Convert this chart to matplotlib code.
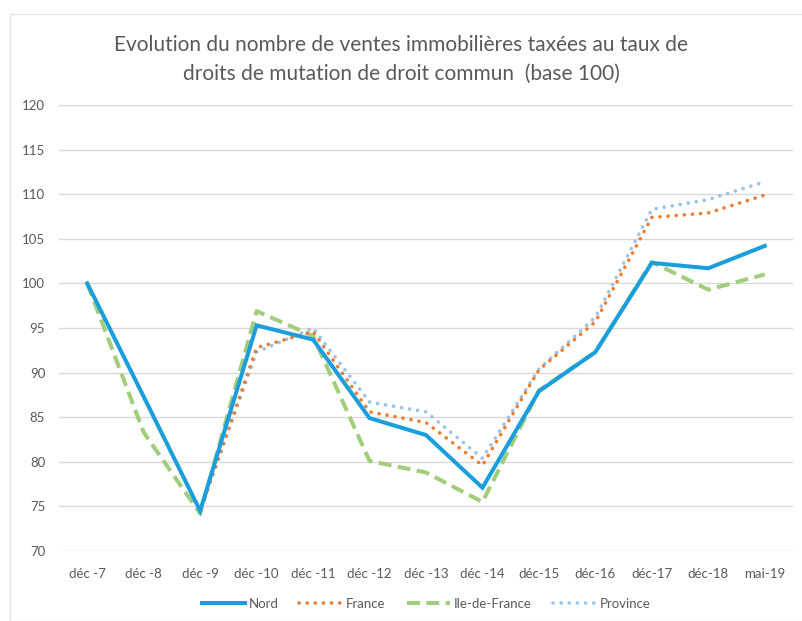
import matplotlib
matplotlib.use("Agg")
import matplotlib.pyplot as plt
from matplotlib.patches import Rectangle

categories = ["déc -7", "déc -8", "déc -9", "déc -10", "déc -11", "déc -12", "déc -13",
              "déc -14", "déc-15", "déc-16", "déc-17", "déc-18", "mai-19"]
nord = [100, 87.3, 74.5, 95.3, 93.7, 84.9, 83.0, 77.1, 87.9, 92.3, 102.3, 101.7, 104.2]
france = [100, 87.3, 74.5, 92.8, 94.6, 85.6, 84.4, 79.6, 90.3, 95.7, 107.4, 107.9, 109.9]
idf = [100, 83.3, 74.2, 96.9, 94.1, 80.1, 78.8, 75.5, 88.0, 92.3, 102.4, 99.3, 101.0]
province = [100, 87.3, 74.5, 92.3, 95.0, 86.7, 85.6, 80.4, 90.4, 96.2, 108.3, 109.4, 111.4]

title = "Evolution du nombre de ventes immobilières taxées au taux de\ndroits de mutation de droit commun  (base 100)"

plt.rcParams['font.family'] = ['Lato', 'DejaVu Sans']
txt = '#595959'

fig = plt.figure(figsize=(8.03, 6.21), dpi=100)
fig.patches.append(Rectangle((0.012, 0.0), 0.99, 0.978, transform=fig.transFigure,
                             fill=False, edgecolor='#e6e6e6', linewidth=1.0))
ax = fig.add_axes([0.0735, 0.1127, 0.914, 0.7182])

x = list(range(len(categories)))
ax.plot(x, nord, color='#1a9fdc', lw=2.9, solid_joinstyle='miter', label='Nord', zorder=4)
ax.plot(x, france, color='#ed7d31', lw=2.6, linestyle=(0, (0.05, 2.2)),
        dash_capstyle='round', label='France', zorder=3)
ax.plot(x, idf, color='#a2cd7a', lw=2.9, linestyle=(0, (3.2, 1.6)), label='Ile-de-France', zorder=2)
ax.plot(x, province, color='#9dc3e6', lw=2.6, linestyle=(0, (0.05, 2.2)),
        dash_capstyle='round', label='Province', zorder=1)

ax.set_xlim(-0.5, len(categories) - 0.5)
ax.set_ylim(70, 120)
ax.set_yticks(range(70, 121, 5))
ax.set_xticks(x)
ax.set_xticklabels(categories)
ax.grid(axis='y', color='#d9d9d9', lw=1.0)
ax.set_axisbelow(True)
for s in ax.spines.values():
    s.set_visible(False)
ax.tick_params(axis='both', length=0, colors=txt, labelsize=9.5)
ax.tick_params(axis='x', pad=12)
ax.tick_params(axis='y', pad=10)

fig.text(0.5, 0.905, title, ha='center', va='center', fontsize=15, color=txt, linespacing=1.55)

leg = ax.legend(loc='center', bbox_to_anchor=(0.5, -0.118), ncol=4, frameon=False,
                fontsize=9.5, handlelength=3.3, handletextpad=0.25, columnspacing=1.6)
for t in leg.get_texts():
    t.set_color(txt)

fig.savefig('out.png', dpi=100, facecolor='white')
